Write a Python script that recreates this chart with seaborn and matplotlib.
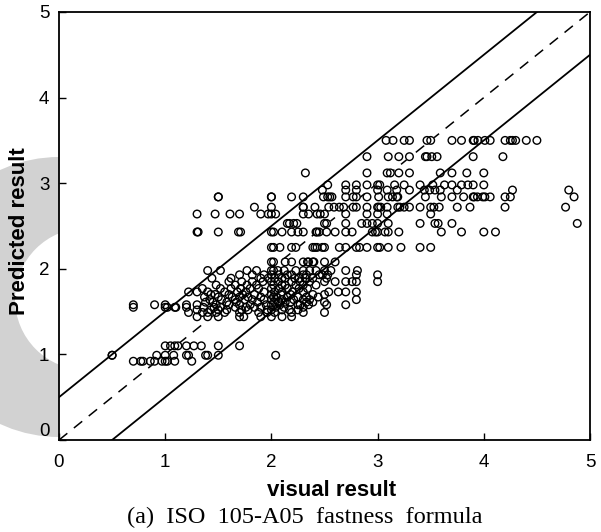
import pandas as pd
import matplotlib
matplotlib.use('Agg')
import matplotlib.pyplot as plt
from matplotlib.patches import Circle
from matplotlib.transforms import IdentityTransform
import seaborn as sns

row_350 = [3.08, 3.145, 3.25, 3.30, 3.465, 3.50, 3.70, 3.79, 3.90, 3.91, 3.945, 4.01, 4.06, 4.20, 4.25, 4.27, 4.30, 4.40, 4.50]
row_331 = [2.90, 3.10, 3.20, 3.30, 3.45, 3.465, 3.51, 3.56, 3.90, 4.18]
row_312 = [2.32, 2.90, 3.09, 3.12, 3.20, 3.30, 3.59, 3.70, 3.84, 4.00]
row_298 = [2.53, 2.70, 2.80, 2.90, 3.00, 3.02, 3.16, 3.25, 3.40, 3.52, 3.63, 3.70, 3.79, 3.85, 3.90, 4.00]
row_292 = [2.48, 2.70, 2.80, 3.00, 3.09, 3.18, 3.30, 3.44, 3.49, 3.54, 3.59, 3.75, 4.27, 4.80]
row_284 = [1.50, 1.50, 2.00, 2.00, 2.19, 2.30, 2.49, 2.53, 2.55, 2.57, 2.70, 2.77, 2.80, 2.90, 3.01, 3.10, 3.14, 3.18, 3.19,
           3.45, 3.60, 3.70, 3.81, 3.90, 3.91, 3.94, 3.99, 4.01, 4.06, 4.20, 4.25, 4.85]
row_272 = [1.84, 2.00, 2.30, 2.30, 2.41, 2.54, 2.59, 2.64, 2.68, 2.77, 2.80, 2.90, 3.00, 3.01, 3.03, 3.09, 3.19, 3.21, 3.25,
           3.30, 3.40, 3.50, 3.53, 3.58, 3.75, 3.87, 4.20, 4.77]
row_264 = [1.30, 1.47, 1.61, 1.70, 1.90, 1.97, 2.00, 2.04, 2.30, 2.35, 2.43, 2.46, 2.50, 2.70, 2.90, 3.00, 3.09, 3.50]
row_253 = [2.15, 2.17, 2.21, 2.24, 2.50, 2.52, 2.70, 2.85, 2.90, 2.95, 3.00, 3.10, 3.40, 3.54, 3.57, 3.70, 4.88]
row_243 = [1.30, 1.31, 1.50, 1.69, 1.71, 2.00, 2.02, 2.10, 2.19, 2.25, 2.30, 2.42, 2.43, 2.45, 2.52, 2.60, 2.70, 2.76, 2.95,
           2.98, 3.00, 3.07, 3.10, 3.20, 3.60, 3.79, 4.00, 4.11]
row_225 = [2.00, 2.02, 2.08, 2.19, 2.23, 2.39, 2.41, 2.43, 2.48, 2.50, 2.64, 2.70, 2.80, 2.83, 2.90, 3.00, 3.02, 3.10, 3.22, 3.40, 3.50]
row_208 = [2.00, 2.02, 2.13, 2.19, 2.30, 2.34, 2.35, 2.39, 2.40, 2.50, 2.60]
row_198 = [1.40, 1.52, 1.77, 1.86, 2.00, 2.02, 2.06, 2.12, 2.23, 2.30, 2.36, 2.42, 2.50, 2.56, 2.70, 2.81]
row_193 = [1.70, 1.82, 1.93, 2.00, 2.07, 2.15, 2.19, 2.30, 2.33, 2.45, 2.48, 2.53, 2.80, 3.00]
row_189 = [1.44, 1.62, 1.90, 1.97, 2.03, 2.10, 2.13, 2.22, 2.26, 2.32, 2.39, 2.52]
row_185 = [1.60, 1.72, 1.82, 1.92, 2.00, 2.06, 2.19, 2.27, 2.36, 2.50, 2.60, 2.70, 2.76, 2.80, 3.00]
row_181 = [1.48, 1.66, 1.77, 1.86, 2.02, 2.10, 2.13, 2.23, 2.30, 2.42]
row_177 = [1.35, 1.52, 1.62, 1.71, 1.80, 1.88, 2.00, 2.07, 2.15, 2.26, 2.34]
row_173 = [1.22, 1.30, 1.40, 1.56, 1.68, 1.76, 1.93, 2.03, 2.10, 2.20, 2.30, 2.54, 2.63, 2.70, 2.80]
row_170 = [1.43, 1.47, 1.60, 1.73, 1.84, 2.00, 2.09, 2.18, 2.39, 2.50]
row_167 = [1.37, 1.50, 1.63, 1.70, 1.78, 1.90, 2.02, 2.05, 2.15, 2.25, 2.33, 2.44]
row_164 = [1.42, 1.53, 1.66, 1.75, 1.82, 1.93, 2.00, 2.10, 2.21, 2.30, 2.36, 2.80]
row_161 = [1.38, 1.45, 1.58, 1.67, 1.87, 2.03, 2.07, 2.13, 2.18, 2.33, 2.39, 2.50]
row_158 = [0.70, 0.90, 1.00, 1.20, 1.30, 1.48, 1.60, 1.70, 1.80, 1.95, 2.00, 2.08, 2.25, 2.27, 2.35, 2.52, 2.70]
row_155 = [0.70, 1.00, 1.02, 1.09, 1.10, 1.20, 1.36, 1.46, 1.52, 1.66, 1.76, 1.84, 1.90, 2.04, 2.12, 2.30]
row_152 = [1.30, 1.43, 1.50, 1.58, 1.72, 1.78, 1.96, 2.00, 2.10, 2.17, 2.25]
row_149 = [1.22, 1.35, 1.40, 1.48, 1.56, 1.70, 1.88, 1.96, 2.03, 2.19, 2.30, 2.50]
row_144 = [1.30, 1.40, 1.50, 1.70, 1.74, 1.90, 2.00, 2.10, 2.19]
row_110 = [1.00, 1.05, 1.09, 1.12, 1.20, 1.27, 1.34, 1.50, 1.70]
row_099 = [0.50, 0.50, 0.92, 1.00, 1.08, 1.20, 1.22, 1.38, 1.40, 1.50, 2.04]
row_092 = [0.70, 0.77, 0.79, 0.86, 0.90, 0.97, 1.00, 1.02, 1.09, 1.25]

levels = [3.50, 3.31, 3.12, 2.98, 2.92, 2.84, 2.72, 2.64, 2.53, 2.43, 2.25, 2.08, 1.98, 1.93, 1.89, 1.85, 1.81, 1.77, 1.73,
          1.70, 1.67, 1.64, 1.61, 1.58, 1.55, 1.52, 1.49, 1.44, 1.10, 0.99, 0.92]
rows = [row_350, row_331, row_312, row_298, row_292, row_284, row_272, row_264, row_253, row_243, row_225, row_208, row_198,
        row_193, row_189, row_185, row_181, row_177, row_173, row_170, row_167, row_164, row_161, row_158, row_155, row_152,
        row_149, row_144, row_110, row_099, row_092]

visual = []
predicted = []
for lev, row in zip(levels, rows):
    visual += row
    predicted += [lev] * len(row)
df = pd.DataFrame({'visual': visual, 'predicted': predicted})

limit_x = [0, 5]
upper_y = [0.5, 5.5]
middle_y = [0, 5]
lower_y = [-0.5, 4.5]

plt.rcParams['font.family'] = ['Liberation Sans', 'DejaVu Sans']
fig = plt.figure(figsize=(6.01, 5.32), dpi=100)

# grey watermark ring behind the axes, in pixels
fig.add_artist(Circle((59, 532 - 297), 140, color='#d2d2d2', lw=0, transform=IdentityTransform(), zorder=-5))
fig.add_artist(Circle((86, 532 - 299), 71, color='white', lw=0, transform=IdentityTransform(), zorder=-4))

ax = fig.add_axes([59 / 601, 1 - 440 / 532, (590 - 59) / 601, (440 - 12) / 532])
ax.set_facecolor('white')

# dashes go under a white fill so the circles break them, rings stay see-through
dash = sns.lineplot(x=limit_x, y=middle_y, color='black', lw=1.1, ax=ax, zorder=1).lines[-1]
dash.set_dashes((7, 5.5))
sns.scatterplot(data=df, x='visual', y='predicted', s=30, color='white', linewidth=0, ax=ax, zorder=2)
sns.lineplot(x=limit_x, y=upper_y, color='black', lw=1.3, ax=ax, zorder=3)
sns.lineplot(x=limit_x, y=lower_y, color='black', lw=1.3, ax=ax, zorder=3)
sns.scatterplot(data=df, x='visual', y='predicted', s=30, facecolor='none', edgecolor='black', linewidth=1.0, ax=ax, zorder=4)

ax.set_xlim(0, 5)
ax.set_ylim(0, 5)
ax.set_xticks(range(6))
ax.set_yticks(range(6))
ax.tick_params(direction='in', length=5, width=1, labelsize=13.5, top=False, right=False)
ax.tick_params(axis='x', pad=10)
ax.tick_params(axis='y', pad=7)
ax.get_yticklabels()[0].set_verticalalignment('bottom')
for s in ax.spines.values():
    s.set_linewidth(1.3)
    s.set_zorder(5)
ax.set_xlabel('')
ax.set_ylabel('')

fig.text(332 / 601, 1 - 490 / 532, 'visual result', ha='center', va='center', fontsize=16, fontweight='bold')
fig.text(20 / 601, 1 - 231 / 532, 'Predicted result', ha='center', va='center', rotation=90, fontsize=16, fontweight='bold')
fig.text(305 / 601, 1 - 517 / 532, '(a)  ISO  105-A05  fastness  formula', ha='center', va='center', fontsize=17.5, family=['Liberation Serif'])

fig.savefig('out.png', dpi=100)
